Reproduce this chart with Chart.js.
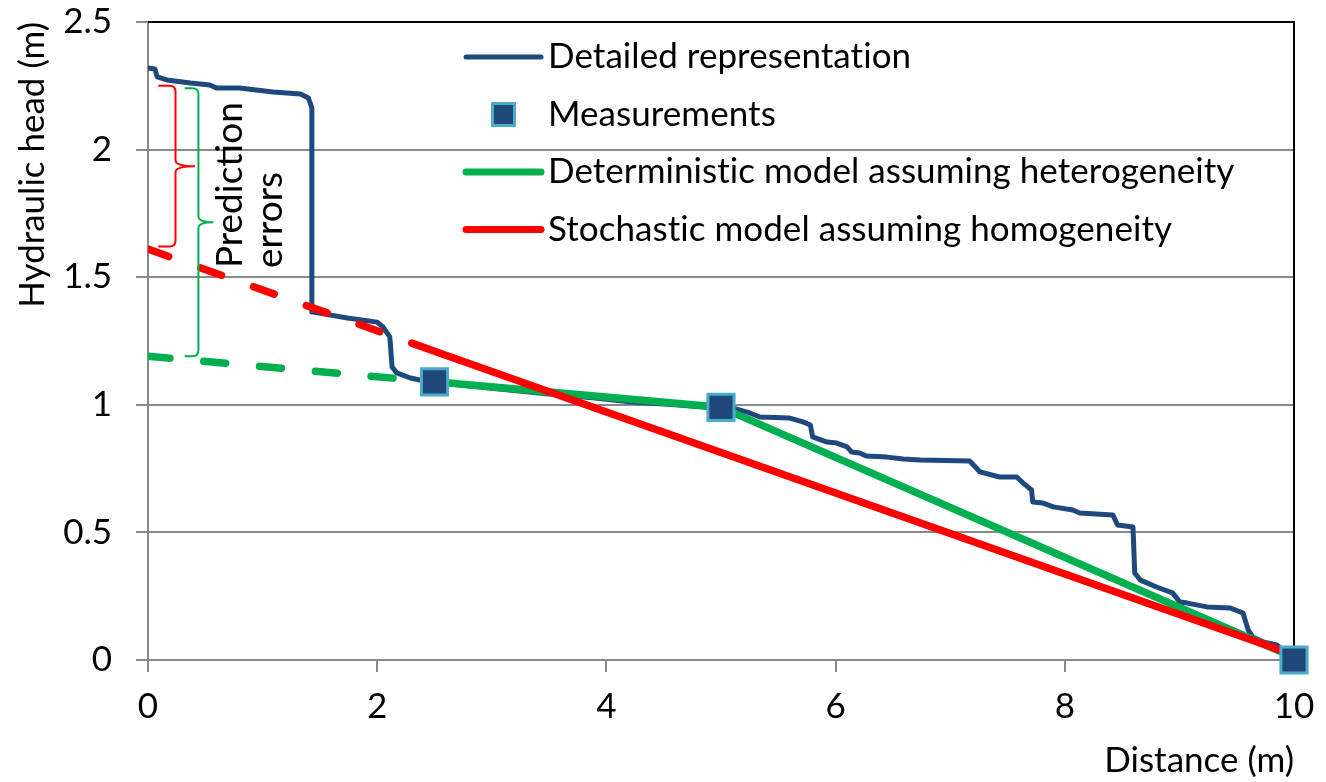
<!DOCTYPE html>
<html>
<head>
<meta charset="utf-8">
<title>Hydraulic head along the flow path</title>
<script src="https://cdn.jsdelivr.net/npm/chart.js@4.4.1/dist/chart.umd.min.js"></script>
<style>
  html, body { margin: 0; padding: 0; background: #ffffff; }
  #head-chart { display: block; }
</style>
</head>
<body>
<canvas id="head-chart" width="1326" height="782"></canvas>
<script>
// Detailed (fine-scale) head profile
const detailX = [0, 0.06, 0.08, 0.165, 0.37, 0.54, 0.60, 0.80, 1.09, 1.33, 1.40, 1.43, 1.43,
    1.74, 2.00, 2.05, 2.11, 2.13, 2.17, 2.29, 2.37, 2.5,
    3.0, 3.5, 3.9, 4.2, 4.6, 5.0,
    5.105, 5.25, 5.34, 5.60, 5.715, 5.78, 5.80, 5.925, 6.01, 6.10, 6.14, 6.21, 6.27, 6.45,
    6.59, 6.74, 7.17, 7.22, 7.26, 7.43, 7.58, 7.635, 7.71, 7.72, 7.81, 7.90, 8.07, 8.13,
    8.42, 8.46, 8.595, 8.61, 8.66, 8.80, 8.94, 9.005, 9.07, 9.24, 9.44, 9.555, 9.60, 9.64,
    9.73, 9.85, 9.90, 9.965, 10];
const detailY = [2.32, 2.316, 2.285, 2.273, 2.261, 2.253, 2.241, 2.241, 2.226, 2.218, 2.202, 2.163, 1.364,
    1.34, 1.324, 1.305, 1.266, 1.148, 1.125, 1.105, 1.097, 1.088,
    1.065, 1.042, 1.027, 1.012, 1.0, 0.985,
    0.987, 0.968, 0.952, 0.948, 0.933, 0.921, 0.874, 0.854, 0.850, 0.835, 0.815, 0.811, 0.799, 0.795,
    0.788, 0.784, 0.780, 0.756, 0.737, 0.717, 0.717, 0.694, 0.666, 0.619, 0.615, 0.600, 0.588, 0.576,
    0.568, 0.529, 0.521, 0.341, 0.313, 0.286, 0.263, 0.227, 0.223, 0.208, 0.204, 0.184, 0.118, 0.090,
    0.071, 0.059, 0.039, 0.020, 0];

const measuredX = [2.5, 5, 10];
const measuredY = [1.09, 0.99, 0];

// Model fits; the first segment (0 to 2.5 m) is an extrapolation
const deterministicX = [0, 2.5, 5, 10];
const deterministicY = [1.19, 1.09, 0.99, 0.01];
const stochasticX = [0, 2.5, 10];
const stochasticY = [1.61, 1.21, 0.02];

const xTicks = [0, 2, 4, 6, 8, 10];
const yTicks = [0, 0.5, 1, 1.5, 2, 2.5];

const seriesLabels = [
    'Detailed representation',
    'Measurements',
    'Deterministic model assuming heterogeneity',
    'Stochastic model assuming homogeneity'
];

// Braces marking the error of each model at the inflow boundary (data units)
const errorBraces = [
    { color: '#ff0000', armX: 0.09, stemX: 0.24, tipX: 0.41, top: 2.25, bottom: 1.62 },
    { color: '#00b050', armX: 0.32, stemX: 0.44, tipX: 0.57, top: 2.24, bottom: 1.19 }
];
const errorLabel = { x: 0.716, y: 1.536, lines: ['Prediction', 'errors'] };

const GRID = '#898989';
const BLUE = '#1f497d';
const FONT = "Lato, 'Open Sans', sans-serif";
const EXTRAPOLATED_DASH = [22, 34];

const toPoints = (xs, ys) => xs.map((x, i) => ({ x: x, y: ys[i] }));

Chart.defaults.font.family = FONT;
Chart.defaults.font.size = 35;
Chart.defaults.color = '#000000';

// Black frame on the top and right edge of the plot area
const plotFrame = {
    id: 'plotFrame',
    beforeDatasetsDraw(chart) {
        const { ctx, chartArea: a } = chart;
        ctx.save();
        ctx.strokeStyle = '#000000';
        ctx.lineWidth = 2;
        ctx.beginPath();
        ctx.moveTo(a.left, a.top);
        ctx.lineTo(a.right, a.top);
        ctx.lineTo(a.right, a.bottom);
        ctx.stroke();
        ctx.restore();
    }
};

// Curly braces and the rotated "Prediction errors" note
const errorNotes = {
    id: 'errorNotes',
    afterDatasetsDraw(chart) {
        const { ctx } = chart;
        const xs = chart.scales.x;
        const ys = chart.scales.y;
        const r = 6;
        ctx.save();
        ctx.lineWidth = 2;
        errorBraces.forEach(b => {
            const ax = xs.getPixelForValue(b.armX);
            const sx = xs.getPixelForValue(b.stemX);
            const tx = xs.getPixelForValue(b.tipX);
            const ty = ys.getPixelForValue(b.top);
            const by = ys.getPixelForValue(b.bottom);
            const my = (ty + by) / 2;
            ctx.strokeStyle = b.color;
            ctx.beginPath();
            ctx.moveTo(ax, ty);
            ctx.lineTo(sx - r, ty);
            ctx.quadraticCurveTo(sx, ty, sx, ty + r);
            ctx.lineTo(sx, my - r);
            ctx.quadraticCurveTo(sx, my, tx, my);
            ctx.quadraticCurveTo(sx, my, sx, my + r);
            ctx.lineTo(sx, by - r);
            ctx.quadraticCurveTo(sx, by, sx - r, by);
            ctx.lineTo(ax, by);
            ctx.stroke();
        });

        ctx.translate(xs.getPixelForValue(errorLabel.x), ys.getPixelForValue(errorLabel.y));
        ctx.rotate(-Math.PI / 2);
        ctx.fillStyle = '#000000';
        ctx.font = '37px ' + FONT;
        ctx.textAlign = 'left';
        ctx.textBaseline = 'middle';
        errorLabel.lines.forEach((line, i) => ctx.fillText(line, 0, i * 40));
        ctx.restore();
    }
};

// Legend drawn inside the plot area, one series per row
const insideLegend = {
    id: 'insideLegend',
    afterDatasetsDraw(chart, args, opts) {
        const { ctx, chartArea } = chart;
        const x0 = chartArea.left + opts.offsetX;
        ctx.save();
        ctx.font = '35px ' + FONT;
        ctx.letterSpacing = '0.05px'; // keeps "ti" from joining into a ligature
        ctx.textAlign = 'left';
        ctx.textBaseline = 'middle';
        chart.data.datasets.forEach((ds, i) => {
            const y = chartArea.top + opts.offsetY + i * opts.rowHeight;
            if (ds.showLine) {
                ctx.strokeStyle = ds.borderColor;
                ctx.lineWidth = Math.min(ds.borderWidth, 7);
                ctx.lineCap = 'round';
                ctx.beginPath();
                ctx.moveTo(x0, y);
                ctx.lineTo(x0 + opts.sampleWidth, y);
                ctx.stroke();
            } else {
                const half = 11;
                const cx = x0 + opts.sampleWidth / 2;
                ctx.fillStyle = ds.pointBackgroundColor;
                ctx.fillRect(cx - half, y - half, half * 2, half * 2);
                ctx.strokeStyle = ds.pointBorderColor;
                ctx.lineWidth = 3;
                ctx.strokeRect(cx - half, y - half, half * 2, half * 2);
            }
            ctx.fillStyle = '#000000';
            ctx.fillText(ds.label, x0 + opts.sampleWidth + 7, y);
        });
        ctx.restore();
    }
};

const lineStyle = {
    showLine: true,
    pointRadius: 0,
    pointHoverRadius: 0,
    borderCapStyle: 'round',
    borderJoinStyle: 'round',
    tension: 0
};

new Chart(document.getElementById('head-chart'), {
    type: 'scatter',
    data: {
        datasets: [
            {
                ...lineStyle,
                label: seriesLabels[0],
                data: toPoints(detailX, detailY),
                borderColor: BLUE,
                borderWidth: 5,
                order: 4
            },
            {
                label: seriesLabels[1],
                data: toPoints(measuredX, measuredY),
                showLine: false,
                clip: false,
                pointStyle: 'rect',
                pointRadius: 18.5,
                pointHoverRadius: 18.5,
                pointBackgroundColor: BLUE,
                pointBorderColor: '#4bacc6',
                pointBorderWidth: 3,
                order: 1
            },
            {
                ...lineStyle,
                label: seriesLabels[2],
                data: toPoints(deterministicX, deterministicY),
                borderColor: '#00b050',
                borderWidth: 7.5,
                segment: {
                    borderDash: ctx => ctx.p0DataIndex === 0 ? EXTRAPOLATED_DASH : undefined
                },
                order: 3
            },
            {
                ...lineStyle,
                label: seriesLabels[3],
                data: toPoints(stochasticX, stochasticY),
                borderColor: '#ff0000',
                borderWidth: 7.5,
                segment: {
                    borderDash: ctx => ctx.p0DataIndex === 0 ? EXTRAPOLATED_DASH : undefined
                },
                order: 2
            }
        ]
    },
    options: {
        responsive: false,
        animation: false,
        events: [],
        layout: {
            padding: { top: 22, right: 32, bottom: 0, left: 0 }
        },
        scales: {
            x: {
                type: 'linear',
                min: 0,
                max: 10,
                afterFit: scale => {
                    scale.height = 122;
                    scale.paddingLeft = 0;
                    scale.paddingRight = 0;
                },
                afterBuildTicks: scale => { scale.ticks = xTicks.map(v => ({ value: v })); },
                grid: {
                    drawOnChartArea: false,
                    drawTicks: true,
                    tickLength: 12,
                    color: GRID,
                    lineWidth: 2
                },
                border: { color: GRID, width: 2 },
                ticks: {
                    padding: 14,
                    maxRotation: 0,
                    callback: value => String(value)
                },
                title: {
                    display: true,
                    text: 'Distance (m)',
                    align: 'end',
                    padding: { top: 4, bottom: 0 }
                }
            },
            y: {
                type: 'linear',
                min: 0,
                max: 2.5,
                afterFit: scale => {
                    scale.width = 148;
                    scale.paddingTop = 0;
                    scale.paddingBottom = 0;
                },
                afterBuildTicks: scale => { scale.ticks = yTicks.map(v => ({ value: v })); },
                grid: {
                    drawTicks: true,
                    tickLength: 12,
                    color: GRID,
                    lineWidth: 2
                },
                border: { color: GRID, width: 2 },
                ticks: {
                    padding: 24,
                    callback: value => String(value)
                },
                title: {
                    display: true,
                    text: 'Hydraulic head (m)',
                    align: 'end',
                    padding: { top: 12, bottom: 0 }
                }
            }
        },
        plugins: {
            legend: { display: false },
            tooltip: { enabled: false },
            insideLegend: { offsetX: 318, offsetY: 35, rowHeight: 57.5, sampleWidth: 75 }
        }
    },
    plugins: [plotFrame, errorNotes, insideLegend]
});
</script>
</body>
</html>
